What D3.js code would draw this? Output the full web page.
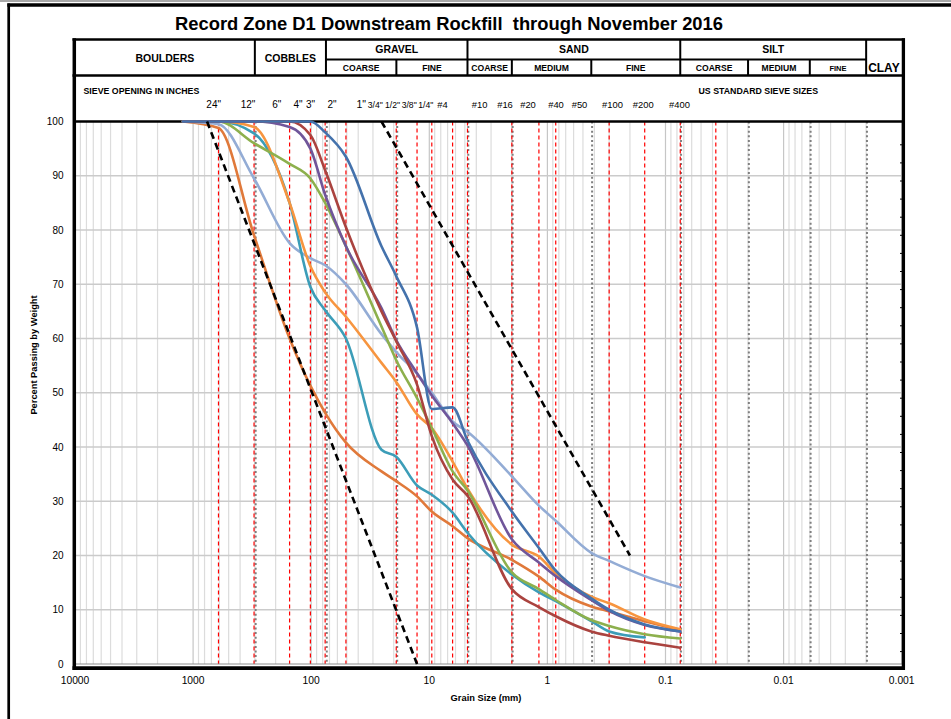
<!DOCTYPE html>
<html><head><meta charset="utf-8">
<script src="https://cdn.jsdelivr.net/npm/d3@7/dist/d3.min.js"></script>
<style>body{margin:0;background:#fff}svg{display:block}text{white-space:pre}</style>
</head><body>
<svg id="chart" width="951" height="719"></svg>
<script>
// ---------------- DATA ----------------
const titleText = "Record Zone D1 Downstream Rockfill  through November 2016";
// sieve sizes (mm) at which the gradations were measured
const sieveSizes = [1219.2, 609.6, 304.8, 152.4, 101.6, 76.2, 50.8, 25.4, 19.05, 12.7, 9.525, 6.35, 4.75, 2.0, 1.18, 0.85, 0.425, 0.3, 0.15, 0.075];
// percent passing per test
const seriesBlue        = [100,100,100,100,100, 98, 93.5, 77, 71.5, 62, 47, 47.3, 41.2, 28.1, 21.4, 17.2, 12.1, 10.0, 7.3, 6.0];
const seriesDarkRed     = [100,100,100,100, 97.5, 91, 80.5, 65, 59.5, 51.5, 42, 34, 31, 13.8, 10.5, 8.8, 6.0, 5.2, 4.0, 3.0];
const seriesGreen       = [100,100, 96, 92.2, 89.5, 85, 77, 62.2, 56, 49, 43.5, 35.5, 32, 16.9, 13.8, 11.8, 8.1, 7.0, 5.5, 4.7];
const seriesPurple      = [100,100,100, 99, 95, 86.5, 77, 65.6, 59.7, 53.6, 49.5, 44.4, 40.3, 23.0, 18.7, 16.2, 11.8, 9.8, 7.2, 6.0];
const seriesTeal        = [100,100, 97.8, 85, 69.5, 65.2, 60, 39.5, 38.2, 32.9, 31.2, 27.9, 24.2, 16.5, 13.2, 11.6, 7.9, 6.0, 4.9, null];
const seriesOrange      = [100,100, 99, 85, 73.3, 68.5, 64, 55.5, 52, 46, 43.5, 37.3, 32.3, 22, 19.8, 16.7, 12.4, 11.2, 8.2, 6.4];
const seriesLightBlue   = [100, 99.5, 89.5, 77.6, 74.8, 73.5, 70, 60.8, 57.5, 53.5, 50, 44.7, 42.8, 34.6, 29.2, 26.4, 20.5, 19.0, 16.2, 14.1];
const seriesDarkOrange  = [100, 98.8, 79, 60, 51.3, 46.3, 40.8, 35.5, 33.7, 30.9, 28.1, 25.4, 23.2, 19.2, 16.1, 13.7, 10.6, 9.7, 7.9, 6.2];
// design envelope (black dashed)
const envelopeFineSizes = [25.4, 0.2];
const envelopeFineValues = [100, 20];
const envelopeCoarseSizes = [762, 12.7];
const envelopeCoarseValues = [100, 0];
// sieve reference lines (red dashed)
const redLineSizes = [609.6, 304.8, 152.4, 101.6, 76.2, 50.8, 19.05, 12.7, 9.525, 6.35, 4.75, 2.0, 1.18, 0.85, 0.3, 0.15, 0.075, 0.0375];
// soil classification boundaries (grey dotted)
const classBoundaries = [300, 75, 19, 4.75, 2, 0.425, 0.075, 0.02, 0.006, 0.002];
const mainClassNames = ["BOULDERS", "COBBLES", "GRAVEL", "SAND", "SILT", "CLAY"];
const mainClassFrom  = [10000, 300, 75, 4.75, 0.075, 0.002];
const mainClassTo    = [300, 75, 4.75, 0.075, 0.002, 0.001];
const subClassNames = ["COARSE", "FINE", "COARSE", "MEDIUM", "FINE", "COARSE", "MEDIUM", "FINE"];
const subClassFrom  = [75, 19, 4.75, 2, 0.425, 0.075, 0.02, 0.006];
const subClassTo    = [19, 4.75, 2, 0.425, 0.075, 0.02, 0.006, 0.002];
const sieveLabels = ['24"', '12"', '6"', '4"', '3"', '2"', '1"', '3/4"', '1/2"', '3/8"', '1/4"', '#4', '#10', '#16', '#20', '#40', '#50', '#100', '#200', '#400'];
const xTickValues = [10000, 1000, 100, 10, 1, 0.1, 0.01, 0.001];
const xTickLabels = ["10000", "1000", "100", "10", "1", "0.1", "0.01", "0.001"];
const yTickValues = [0, 10, 20, 30, 40, 50, 60, 70, 80, 90, 100];

// ---------------- LAYOUT ----------------
const FONT = "'Liberation Sans', Arial, sans-serif";
const L = 75, R = 901.7, T = 121.5, B = 664;
const sieveLabelX = [213.7, 248, 276.7, 298, 310.5, 332, 361.2, 375.3, 392.5, 409.2, 425.8, 442.5, 479.7, 505, 528, 556, 579.5, 612.5, 643.3, 679.5];
const sieveLabelSize = [10, 10, 10, 10, 10, 10, 10.5, 8.6, 8.6, 8.6, 8.6, 9.4, 9.4, 9.4, 9.4, 9.4, 9.4, 9.4, 9.4, 9.4];

const svg = d3.select("#chart");
const x = d3.scaleLog().domain([10000, 0.001]).range([L, R]);
const y = d3.scaleLinear().domain([0, 100]).range([B, T]);

// outer frame
svg.append("line").attr("x1", 0).attr("x2", 951).attr("y1", 1).attr("y2", 1).attr("stroke", "#A8A8A8").attr("stroke-width", 2);
svg.append("line").attr("x1", 7.3).attr("x2", 951).attr("y1", 5).attr("y2", 5).attr("stroke", "#000").attr("stroke-width", 3.3);
svg.append("line").attr("x1", 8.7).attr("x2", 8.7).attr("y1", 3.5).attr("y2", 719).attr("stroke", "#000").attr("stroke-width", 2.7);

// title
svg.append("text").attr("x", 175).attr("y", 30).attr("textLength", 548).attr("lengthAdjust", "spacingAndGlyphs")
  .attr("font-family", FONT).attr("font-weight", "bold").attr("font-size", 19).text(titleText);

// grid: vertical log lines
const gV = svg.append("g");
const minorVals = [];
for (let e = -3; e < 4; e++) for (let m = 1; m < 10; m++) minorVals.push(m * Math.pow(10, e));
gV.selectAll("line").data(minorVals).join("line")
  .attr("x1", d => x(d)).attr("x2", d => x(d)).attr("y1", T).attr("y2", B)
  .attr("stroke", (d, i) => i % 9 === 0 ? "#C6C6C6" : "#DCDCDC").attr("stroke-width", 1.2);
// horizontal grid
svg.append("g").selectAll("line").data(yTickValues.slice(1, 10)).join("line")
  .attr("x1", L).attr("x2", R).attr("y1", d => y(d)).attr("y2", d => y(d))
  .attr("stroke", "#CBCBCB").attr("stroke-width", 1.5);

// class boundaries (grey dotted)
svg.append("g").selectAll("line").data(classBoundaries).join("line")
  .attr("x1", d => x(d) + 0.8).attr("x2", d => x(d) + 0.8).attr("y1", T).attr("y2", B)
  .attr("stroke", "#7F7F7F").attr("stroke-width", 2).attr("stroke-dasharray", "2,2.6");
// sieve lines (red dashed)
svg.append("g").selectAll("line").data(redLineSizes).join("line")
  .attr("x1", d => x(d)).attr("x2", d => x(d)).attr("y1", T).attr("y2", B)
  .attr("stroke", "#FF0000").attr("stroke-width", 1.2).attr("stroke-dasharray", "4,3");

// plot borders
svg.append("line").attr("x1", 73).attr("x2", 905).attr("y1", T).attr("y2", T).attr("stroke", "#000").attr("stroke-width", 2.5);
svg.append("line").attr("x1", 74).attr("x2", 905).attr("y1", B).attr("y2", B).attr("stroke", "#8C8C8C").attr("stroke-width", 1);
svg.append("line").attr("x1", 72.5).attr("x2", 905).attr("y1", B + 4.2).attr("y2", B + 4.2).attr("stroke", "#000").attr("stroke-width", 3.8);

// table (header)
const tTop = 39.5, tMid = 59.5, tBot = 75.5;
svg.append("line").attr("x1", 72.5).attr("x2", 905).attr("y1", tTop).attr("y2", tTop).attr("stroke", "#000").attr("stroke-width", 2.5);
svg.append("line").attr("x1", 72.5).attr("x2", 905).attr("y1", tBot).attr("y2", tBot).attr("stroke", "#000").attr("stroke-width", 2.3);
svg.append("line").attr("x1", x(75)).attr("x2", x(0.002)).attr("y1", tMid).attr("y2", tMid).attr("stroke", "#000").attr("stroke-width", 2);
svg.append("g").selectAll("line").data(mainClassFrom.slice(1)).join("line")
  .attr("x1", d => x(d)).attr("x2", d => x(d)).attr("y1", tTop).attr("y2", tBot).attr("stroke", "#000").attr("stroke-width", 2);
svg.append("g").selectAll("line").data(subClassFrom.filter(d => mainClassFrom.indexOf(d) < 0)).join("line")
  .attr("x1", d => x(d)).attr("x2", d => x(d)).attr("y1", tMid).attr("y2", tBot).attr("stroke", "#000").attr("stroke-width", 2);
// left/right borders
svg.append("line").attr("x1", 74.3).attr("x2", 74.3).attr("y1", 38.3).attr("y2", B + 6.1).attr("stroke", "#000").attr("stroke-width", 3.5);
svg.append("line").attr("x1", 903.4).attr("x2", 903.4).attr("y1", 38.3).attr("y2", B + 6.1).attr("stroke", "#000").attr("stroke-width", 3.3);
// right secondary ticks
const yR = d3.scaleLinear().domain([0, 30]).range([B + 5.7, B + 5.7 - 543]);
svg.append("g").selectAll("line").data(d3.range(1, 30)).join("line")
  .attr("x1", 900).attr("x2", 903).attr("y1", d => yR(d)).attr("y2", d => yR(d)).attr("stroke", "#000").attr("stroke-width", 1);

// header texts
const hx = (a, b) => (Math.max(x(a), 74.3) + Math.min(x(b), 903.4)) / 2;
svg.append("g").selectAll("text").data(mainClassNames).join("text")
  .attr("x", (d, i) => hx(mainClassFrom[i], mainClassTo[i]))
  .attr("y", (d, i) => (i < 2 ? 61.5 : (i === 5 ? 71.5 : 52.5)))
  .attr("text-anchor", "middle").attr("font-family", FONT).attr("font-weight", "bold")
  .attr("font-size", (d, i) => i === 5 ? 12 : 10.5).text(d => d);
svg.append("g").selectAll("text").data(subClassNames).join("text")
  .attr("x", (d, i) => hx(subClassFrom[i], subClassTo[i]))
  .attr("y", 70.5).attr("text-anchor", "middle").attr("font-family", FONT).attr("font-weight", "bold")
  .attr("font-size", (d, i) => i === 7 ? 7.5 : 8.6).text(d => d);

svg.append("text").attr("x", 83.5).attr("y", 94.3).attr("font-family", FONT).attr("font-weight", "bold")
  .attr("font-size", 8.8).text("SIEVE OPENING IN INCHES");
svg.append("text").attr("x", 698.5).attr("y", 94.3).attr("font-family", FONT).attr("font-weight", "bold")
  .attr("font-size", 8.8).text("US STANDARD SIEVE SIZES");
svg.append("g").selectAll("text").data(sieveLabels).join("text")
  .attr("x", (d, i) => sieveLabelX[i]).attr("y", 108.3).attr("text-anchor", "middle")
  .attr("font-family", FONT).attr("font-size", (d, i) => sieveLabelSize[i]).text(d => d);

// axes labels
svg.append("g").selectAll("text").data(yTickValues).join("text")
  .attr("x", 63.5).attr("y", d => y(d)).attr("dy", "0.35em").attr("text-anchor", "end")
  .attr("font-family", FONT).attr("font-size", 10).text(d => d);
svg.append("g").selectAll("text").data(xTickValues).join("text")
  .attr("x", d => x(d)).attr("y", 683.5).attr("text-anchor", "middle")
  .attr("font-family", FONT).attr("font-size", 10.3).text((d, i) => xTickLabels[i]);
svg.append("text").attr("transform", "translate(36.5,355) rotate(-90)").attr("text-anchor", "middle")
  .attr("font-family", FONT).attr("font-weight", "bold").attr("font-size", 9.3).text("Percent Passing by Weight");
svg.append("text").attr("x", 486).attr("y", 700.5).attr("text-anchor", "middle")
  .attr("font-family", FONT).attr("font-weight", "bold").attr("font-size", 9.3).text("Grain Size (mm)");

// gradation curves
const series = [
  {v: seriesDarkOrange, c: "#E0793A"},
  {v: seriesLightBlue, c: "#93ACD5"},
  {v: seriesTeal, c: "#3C9DB8"},
  {v: seriesOrange, c: "#F7953F"},
  {v: seriesGreen, c: "#8DB04D"},
  {v: seriesPurple, c: "#70569A"},
  {v: seriesDarkRed, c: "#AA433F"},
  {v: seriesBlue, c: "#4472AC"}
];
const line = d3.line().x(d => x(d[0])).y(d => y(d[1])).curve(d3.curveMonotoneX);
svg.append("g").selectAll("path").data(series).join("path")
  .attr("d", s => line(sieveSizes.map((z, i) => [z, s.v[i]]).filter(d => d[1] != null)))
  .attr("fill", "none").attr("stroke", s => s.c).attr("stroke-width", 2.6).attr("stroke-linejoin", "round").attr("stroke-linecap", "round");

// envelope
const env = d3.line().x(d => x(d[0])).y(d => y(d[1]));
[[envelopeCoarseSizes, envelopeCoarseValues], [envelopeFineSizes, envelopeFineValues]].forEach(([s, v]) => {
  svg.append("path").attr("d", env(s.map((z, i) => [z, v[i]])))
    .attr("fill", "none").attr("stroke", "#000").attr("stroke-width", 2.6).attr("stroke-dasharray", "7,4.5");
});
</script>
</body></html>
